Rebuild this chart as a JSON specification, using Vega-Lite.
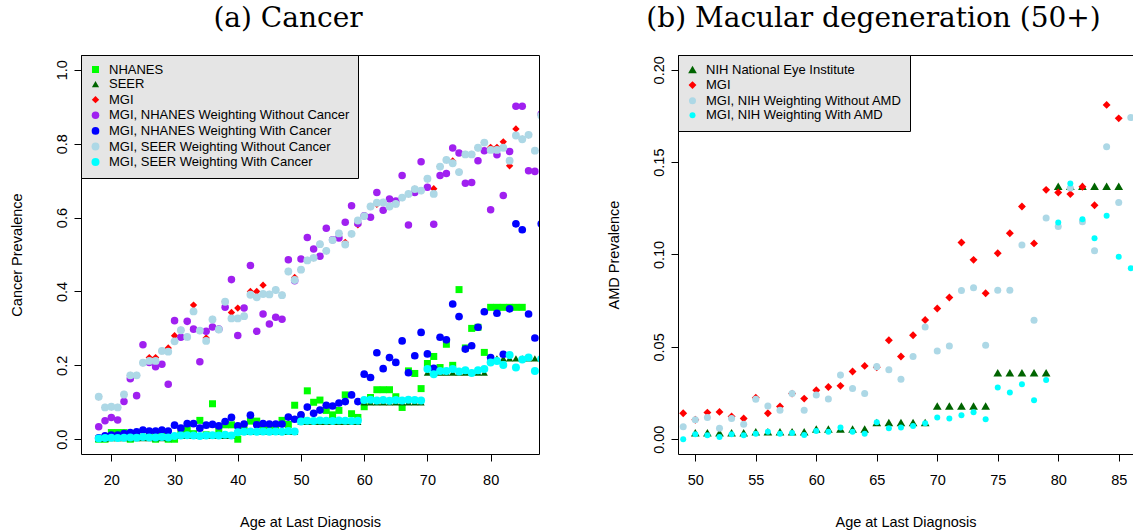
{
"$schema": "https://vega.github.io/schema/vega-lite/v6.json",
"background": "white",
"padding": {"left": 8, "top": 4, "right": 0, "bottom": 0},
"spacing": 66,
"config": {
  "font": "Liberation Sans",
  "view": {"stroke": "black", "strokeWidth": 1},
  "axis": {"grid": false, "domain": false, "tickColor": "black", "tickSize": 7, "labelFont": "Liberation Sans", "labelFontSize": 14.5, "labelColor": "black", "labelOverlap": false, "titleFont": "Liberation Sans", "titleFontSize": 14.5, "titleFontWeight": "normal", "titleColor": "black"},
  "legend": {"orient": "top-left", "offset": 0, "padding": 8, "rowPadding": 0.6, "labelFont": "Liberation Sans", "labelFontSize": 13, "labelColor": "black", "labelLimit": 400, "symbolSize": 30, "labelOffset": 7, "fillColor": "#e5e5e5", "strokeColor": "black", "strokeWidth": 1, "cornerRadius": 0, "symbolOpacity": 1},
  "title": {"font": "DejaVu Serif", "fontSize": 28, "fontWeight": "normal", "color": "black", "offset": 22, "frame": "group"}
},
"resolve": {"scale": {"color": "independent", "shape": "independent", "size": "independent"}, "legend": {"color": "independent", "shape": "independent"}},
"hconcat": [
{
  "width": 458, "height": 399,
  "title": {"text": "(a) Cancer", "dx": -22},
  "data": {"values": [
{"s":"N","a":18,"v":0},{"s":"N","a":19,"v":0},{"s":"N","a":20,"v":0.018},{"s":"N","a":21,"v":0.018},{"s":"N","a":22,"v":0.018},{"s":"N","a":23,"v":0},{"s":"N","a":24,"v":0.012},{"s":"N","a":25,"v":0.005},{"s":"N","a":26,"v":0.01},{"s":"N","a":27,"v":0},{"s":"N","a":28,"v":0.01},{"s":"N","a":29,"v":0},{"s":"N","a":30,"v":0},{"s":"N","a":31,"v":0.015},{"s":"N","a":32,"v":0.027},{"s":"N","a":33,"v":0.015},{"s":"N","a":34,"v":0.051},{"s":"N","a":35,"v":0.012},{"s":"N","a":36,"v":0.096},{"s":"N","a":37,"v":0.024},{"s":"N","a":38,"v":0.039},{"s":"N","a":39,"v":0.039},{"s":"N","a":40,"v":0},{"s":"N","a":41,"v":0.025},{"s":"N","a":42,"v":0.049},{"s":"N","a":43,"v":0.049},{"s":"N","a":44,"v":0.03},{"s":"N","a":45,"v":0.035},{"s":"N","a":46,"v":0.03},{"s":"N","a":47,"v":0.051},{"s":"N","a":48,"v":0.04},{"s":"N","a":49,"v":0.092},{"s":"N","a":50,"v":0.06},{"s":"N","a":51,"v":0.131},{"s":"N","a":52,"v":0.1},{"s":"N","a":53,"v":0.106},{"s":"N","a":54,"v":0.078},{"s":"N","a":55,"v":0.066},{"s":"N","a":56,"v":0.078},{"s":"N","a":57,"v":0.12},{"s":"N","a":58,"v":0.069},{"s":"N","a":59,"v":0.059},{"s":"N","a":60,"v":0.088},{"s":"N","a":61,"v":0.113},{"s":"N","a":62,"v":0.134},{"s":"N","a":63,"v":0.134},{"s":"N","a":64,"v":0.134},{"s":"N","a":65,"v":0.115},{"s":"N","a":66,"v":0.086},{"s":"N","a":67,"v":0.185},{"s":"N","a":68,"v":0.178},{"s":"N","a":69,"v":0.137},{"s":"N","a":70,"v":0.205},{"s":"N","a":71,"v":0.224},{"s":"N","a":72,"v":0.194},{"s":"N","a":73,"v":0.257},{"s":"N","a":74,"v":0.2},{"s":"N","a":75,"v":0.405},{"s":"N","a":76,"v":0.247},{"s":"N","a":77,"v":0.3},{"s":"N","a":78,"v":0.303},{"s":"N","a":79,"v":0.235},{"s":"N","a":80,"v":0.357},{"s":"N","a":81,"v":0.357},{"s":"N","a":82,"v":0.357},{"s":"N","a":83,"v":0.357},{"s":"N","a":84,"v":0.357},{"s":"N","a":85,"v":0.357},
{"s":"S","a":18,"v":0.001},{"s":"S","a":19,"v":0.001},{"s":"S","a":20,"v":0.003},{"s":"S","a":21,"v":0.003},{"s":"S","a":22,"v":0.003},{"s":"S","a":23,"v":0.003},{"s":"S","a":24,"v":0.003},{"s":"S","a":25,"v":0.003},{"s":"S","a":26,"v":0.003},{"s":"S","a":27,"v":0.003},{"s":"S","a":28,"v":0.003},{"s":"S","a":29,"v":0.003},{"s":"S","a":30,"v":0.009},{"s":"S","a":31,"v":0.009},{"s":"S","a":32,"v":0.009},{"s":"S","a":33,"v":0.009},{"s":"S","a":34,"v":0.009},{"s":"S","a":35,"v":0.009},{"s":"S","a":36,"v":0.009},{"s":"S","a":37,"v":0.009},{"s":"S","a":38,"v":0.009},{"s":"S","a":39,"v":0.009},{"s":"S","a":40,"v":0.02},{"s":"S","a":41,"v":0.02},{"s":"S","a":42,"v":0.02},{"s":"S","a":43,"v":0.02},{"s":"S","a":44,"v":0.02},{"s":"S","a":45,"v":0.02},{"s":"S","a":46,"v":0.02},{"s":"S","a":47,"v":0.02},{"s":"S","a":48,"v":0.02},{"s":"S","a":49,"v":0.02},{"s":"S","a":50,"v":0.047},{"s":"S","a":51,"v":0.047},{"s":"S","a":52,"v":0.047},{"s":"S","a":53,"v":0.047},{"s":"S","a":54,"v":0.047},{"s":"S","a":55,"v":0.047},{"s":"S","a":56,"v":0.047},{"s":"S","a":57,"v":0.047},{"s":"S","a":58,"v":0.047},{"s":"S","a":59,"v":0.047},{"s":"S","a":60,"v":0.1},{"s":"S","a":61,"v":0.1},{"s":"S","a":62,"v":0.1},{"s":"S","a":63,"v":0.1},{"s":"S","a":64,"v":0.1},{"s":"S","a":65,"v":0.1},{"s":"S","a":66,"v":0.1},{"s":"S","a":67,"v":0.1},{"s":"S","a":68,"v":0.1},{"s":"S","a":69,"v":0.1},{"s":"S","a":70,"v":0.18},{"s":"S","a":71,"v":0.18},{"s":"S","a":72,"v":0.18},{"s":"S","a":73,"v":0.18},{"s":"S","a":74,"v":0.18},{"s":"S","a":75,"v":0.18},{"s":"S","a":76,"v":0.18},{"s":"S","a":77,"v":0.18},{"s":"S","a":78,"v":0.18},{"s":"S","a":79,"v":0.18},{"s":"S","a":80,"v":0.219},{"s":"S","a":81,"v":0.219},{"s":"S","a":82,"v":0.219},{"s":"S","a":83,"v":0.219},{"s":"S","a":84,"v":0.219},{"s":"S","a":85,"v":0.219},{"s":"S","a":86,"v":0.219},{"s":"S","a":87,"v":0.219},{"s":"S","a":88,"v":0.219},
{"s":"M","a":18,"v":0.115},{"s":"M","a":19,"v":0.086},{"s":"M","a":20,"v":0.088},{"s":"M","a":21,"v":0.086},{"s":"M","a":22,"v":0.121},{"s":"M","a":23,"v":0.173},{"s":"M","a":24,"v":0.173},{"s":"M","a":25,"v":0.207},{"s":"M","a":26,"v":0.221},{"s":"M","a":27,"v":0.221},{"s":"M","a":28,"v":0.239},{"s":"M","a":29,"v":0.247},{"s":"M","a":30,"v":0.28},{"s":"M","a":31,"v":0.295},{"s":"M","a":32,"v":0.277},{"s":"M","a":33,"v":0.363},{"s":"M","a":34,"v":0.294},{"s":"M","a":35,"v":0.274},{"s":"M","a":36,"v":0.324},{"s":"M","a":37,"v":0.297},{"s":"M","a":38,"v":0.372},{"s":"M","a":39,"v":0.343},{"s":"M","a":40,"v":0.355},{"s":"M","a":41,"v":0.333},{"s":"M","a":42,"v":0.4},{"s":"M","a":43,"v":0.4},{"s":"M","a":44,"v":0.417},{"s":"M","a":45,"v":0.392},{"s":"M","a":46,"v":0.404},{"s":"M","a":47,"v":0.39},{"s":"M","a":48,"v":0.454},{"s":"M","a":49,"v":0.438},{"s":"M","a":50,"v":0.459},{"s":"M","a":51,"v":0.484},{"s":"M","a":52,"v":0.491},{"s":"M","a":53,"v":0.528},{"s":"M","a":54,"v":0.51},{"s":"M","a":55,"v":0.539},{"s":"M","a":56,"v":0.557},{"s":"M","a":57,"v":0.533},{"s":"M","a":58,"v":0.556},{"s":"M","a":59,"v":0.58},{"s":"M","a":60,"v":0.604},{"s":"M","a":61,"v":0.63},{"s":"M","a":62,"v":0.636},{"s":"M","a":63,"v":0.641},{"s":"M","a":64,"v":0.63},{"s":"M","a":65,"v":0.637},{"s":"M","a":66,"v":0.654},{"s":"M","a":67,"v":0.664},{"s":"M","a":68,"v":0.677},{"s":"M","a":69,"v":0.673},{"s":"M","a":70,"v":0.705},{"s":"M","a":71,"v":0.678},{"s":"M","a":72,"v":0.738},{"s":"M","a":73,"v":0.756},{"s":"M","a":74,"v":0.753},{"s":"M","a":75,"v":0.723},{"s":"M","a":76,"v":0.771},{"s":"M","a":77,"v":0.771},{"s":"M","a":78,"v":0.789},{"s":"M","a":79,"v":0.803},{"s":"M","a":80,"v":0.79},{"s":"M","a":81,"v":0.79},{"s":"M","a":82,"v":0.805},{"s":"M","a":83,"v":0.74},{"s":"M","a":84,"v":0.84},{"s":"M","a":85,"v":0.812},{"s":"M","a":86,"v":0.824},{"s":"M","a":87,"v":0.781},{"s":"M","a":88,"v":0.876},
{"s":"P","a":18,"v":0.034},{"s":"P","a":19,"v":0.05},{"s":"P","a":20,"v":0.059},{"s":"P","a":21,"v":0.052},{"s":"P","a":22,"v":0.102},{"s":"P","a":23,"v":0.164},{"s":"P","a":24,"v":0.118},{"s":"P","a":25,"v":0.256},{"s":"P","a":26,"v":0.208},{"s":"P","a":27,"v":0.196},{"s":"P","a":28,"v":0.203},{"s":"P","a":29,"v":0.149},{"s":"P","a":30,"v":0.321},{"s":"P","a":31,"v":0.276},{"s":"P","a":32,"v":0.319},{"s":"P","a":33,"v":0.298},{"s":"P","a":34,"v":0.21},{"s":"P","a":35,"v":0.292},{"s":"P","a":36,"v":0.304},{"s":"P","a":37,"v":0.298},{"s":"P","a":38,"v":0.357},{"s":"P","a":39,"v":0.432},{"s":"P","a":40,"v":0.281},{"s":"P","a":41,"v":0.355},{"s":"P","a":42,"v":0.47},{"s":"P","a":43,"v":0.292},{"s":"P","a":44,"v":0.339},{"s":"P","a":45,"v":0.312},{"s":"P","a":46,"v":0.33},{"s":"P","a":47,"v":0.325},{"s":"P","a":48,"v":0.486},{"s":"P","a":49,"v":0.429},{"s":"P","a":50,"v":0.488},{"s":"P","a":51,"v":0.546},{"s":"P","a":52,"v":0.515},{"s":"P","a":53,"v":0.495},{"s":"P","a":54,"v":0.571},{"s":"P","a":55,"v":0.54},{"s":"P","a":56,"v":0.545},{"s":"P","a":57,"v":0.587},{"s":"P","a":58,"v":0.632},{"s":"P","a":59,"v":0.584},{"s":"P","a":60,"v":0.605},{"s":"P","a":61,"v":0.601},{"s":"P","a":62,"v":0.668},{"s":"P","a":63,"v":0.62},{"s":"P","a":64,"v":0.65},{"s":"P","a":65,"v":0.645},{"s":"P","a":66,"v":0.714},{"s":"P","a":67,"v":0.58},{"s":"P","a":68,"v":0.668},{"s":"P","a":69,"v":0.751},{"s":"P","a":70,"v":0.682},{"s":"P","a":71,"v":0.582},{"s":"P","a":72,"v":0.714},{"s":"P","a":73,"v":0.719},{"s":"P","a":74,"v":0.788},{"s":"P","a":75,"v":0.775},{"s":"P","a":76,"v":0.693},{"s":"P","a":77,"v":0.695},{"s":"P","a":78,"v":0.754},{"s":"P","a":79,"v":0.781},{"s":"P","a":80,"v":0.621},{"s":"P","a":81,"v":0.77},{"s":"P","a":82,"v":0.66},{"s":"P","a":83,"v":0.779},{"s":"P","a":84,"v":0.901},{"s":"P","a":85,"v":0.901},{"s":"P","a":86,"v":0.727},{"s":"P","a":87,"v":0.725},{"s":"P","a":88,"v":0.88},
{"s":"B","a":18,"v":0.004},{"s":"B","a":19,"v":0.009},{"s":"B","a":20,"v":0.011},{"s":"B","a":21,"v":0.011},{"s":"B","a":22,"v":0.015},{"s":"B","a":23,"v":0.018},{"s":"B","a":24,"v":0.02},{"s":"B","a":25,"v":0.025},{"s":"B","a":26,"v":0.022},{"s":"B","a":27,"v":0.022},{"s":"B","a":28,"v":0.025},{"s":"B","a":29,"v":0.022},{"s":"B","a":30,"v":0.038},{"s":"B","a":31,"v":0.03},{"s":"B","a":32,"v":0.042},{"s":"B","a":33,"v":0.042},{"s":"B","a":34,"v":0.03},{"s":"B","a":35,"v":0.038},{"s":"B","a":36,"v":0.04},{"s":"B","a":37,"v":0.036},{"s":"B","a":38,"v":0.048},{"s":"B","a":39,"v":0.059},{"s":"B","a":40,"v":0.036},{"s":"B","a":41,"v":0.041},{"s":"B","a":42,"v":0.065},{"s":"B","a":43,"v":0.039},{"s":"B","a":44,"v":0.042},{"s":"B","a":45,"v":0.041},{"s":"B","a":46,"v":0.041},{"s":"B","a":47,"v":0.041},{"s":"B","a":48,"v":0.06},{"s":"B","a":49,"v":0.054},{"s":"B","a":50,"v":0.066},{"s":"B","a":51,"v":0.087},{"s":"B","a":52,"v":0.07},{"s":"B","a":53,"v":0.079},{"s":"B","a":54,"v":0.092},{"s":"B","a":55,"v":0.09},{"s":"B","a":56,"v":0.098},{"s":"B","a":57,"v":0.102},{"s":"B","a":58,"v":0.12},{"s":"B","a":59,"v":0.102},{"s":"B","a":60,"v":0.176},{"s":"B","a":61,"v":0.167},{"s":"B","a":62,"v":0.234},{"s":"B","a":63,"v":0.191},{"s":"B","a":64,"v":0.221},{"s":"B","a":65,"v":0.208},{"s":"B","a":66,"v":0.266},{"s":"B","a":67,"v":0.18},{"s":"B","a":68,"v":0.226},{"s":"B","a":69,"v":0.289},{"s":"B","a":70,"v":0.231},{"s":"B","a":71,"v":0.192},{"s":"B","a":72,"v":0.276},{"s":"B","a":73,"v":0.269},{"s":"B","a":74,"v":0.366},{"s":"B","a":75,"v":0.332},{"s":"B","a":76,"v":0.244},{"s":"B","a":77,"v":0.253},{"s":"B","a":78,"v":0.303},{"s":"B","a":79,"v":0.345},{"s":"B","a":80,"v":0.221},{"s":"B","a":81,"v":0.341},{"s":"B","a":82,"v":0.23},{"s":"B","a":83,"v":0.353},{"s":"B","a":84,"v":0.583},{"s":"B","a":85,"v":0.567},{"s":"B","a":86,"v":0.339},{"s":"B","a":87,"v":0.274},{"s":"B","a":88,"v":0.583},
{"s":"L","a":18,"v":0.115},{"s":"L","a":19,"v":0.086},{"s":"L","a":20,"v":0.088},{"s":"L","a":21,"v":0.086},{"s":"L","a":22,"v":0.121},{"s":"L","a":23,"v":0.173},{"s":"L","a":24,"v":0.173},{"s":"L","a":25,"v":0.207},{"s":"L","a":26,"v":0.212},{"s":"L","a":27,"v":0.212},{"s":"L","a":28,"v":0.239},{"s":"L","a":29,"v":0.237},{"s":"L","a":30,"v":0.265},{"s":"L","a":31,"v":0.295},{"s":"L","a":32,"v":0.277},{"s":"L","a":33,"v":0.346},{"s":"L","a":34,"v":0.294},{"s":"L","a":35,"v":0.266},{"s":"L","a":36,"v":0.324},{"s":"L","a":37,"v":0.297},{"s":"L","a":38,"v":0.372},{"s":"L","a":39,"v":0.327},{"s":"L","a":40,"v":0.327},{"s":"L","a":41,"v":0.333},{"s":"L","a":42,"v":0.391},{"s":"L","a":43,"v":0.384},{"s":"L","a":44,"v":0.393},{"s":"L","a":45,"v":0.392},{"s":"L","a":46,"v":0.404},{"s":"L","a":47,"v":0.39},{"s":"L","a":48,"v":0.454},{"s":"L","a":49,"v":0.431},{"s":"L","a":50,"v":0.459},{"s":"L","a":51,"v":0.484},{"s":"L","a":52,"v":0.491},{"s":"L","a":53,"v":0.528},{"s":"L","a":54,"v":0.51},{"s":"L","a":55,"v":0.539},{"s":"L","a":56,"v":0.557},{"s":"L","a":57,"v":0.527},{"s":"L","a":58,"v":0.556},{"s":"L","a":59,"v":0.592},{"s":"L","a":60,"v":0.604},{"s":"L","a":61,"v":0.63},{"s":"L","a":62,"v":0.64},{"s":"L","a":63,"v":0.641},{"s":"L","a":64,"v":0.63},{"s":"L","a":65,"v":0.637},{"s":"L","a":66,"v":0.654},{"s":"L","a":67,"v":0.664},{"s":"L","a":68,"v":0.677},{"s":"L","a":69,"v":0.673},{"s":"L","a":70,"v":0.705},{"s":"L","a":71,"v":0.664},{"s":"L","a":72,"v":0.738},{"s":"L","a":73,"v":0.756},{"s":"L","a":74,"v":0.747},{"s":"L","a":75,"v":0.723},{"s":"L","a":76,"v":0.771},{"s":"L","a":77,"v":0.771},{"s":"L","a":78,"v":0.789},{"s":"L","a":79,"v":0.803},{"s":"L","a":80,"v":0.783},{"s":"L","a":81,"v":0.783},{"s":"L","a":82,"v":0.789},{"s":"L","a":83,"v":0.754},{"s":"L","a":84,"v":0.822},{"s":"L","a":85,"v":0.812},{"s":"L","a":86,"v":0.824},{"s":"L","a":87,"v":0.781},{"s":"L","a":88,"v":0.876},
{"s":"C","a":18,"v":0.002},{"s":"C","a":19,"v":0.003},{"s":"C","a":20,"v":0.004},{"s":"C","a":21,"v":0.003},{"s":"C","a":22,"v":0.004},{"s":"C","a":23,"v":0.005},{"s":"C","a":24,"v":0.004},{"s":"C","a":25,"v":0.006},{"s":"C","a":26,"v":0.005},{"s":"C","a":27,"v":0.005},{"s":"C","a":28,"v":0.006},{"s":"C","a":29,"v":0.005},{"s":"C","a":30,"v":0.009},{"s":"C","a":31,"v":0.01},{"s":"C","a":32,"v":0.011},{"s":"C","a":33,"v":0.01},{"s":"C","a":34,"v":0.009},{"s":"C","a":35,"v":0.01},{"s":"C","a":36,"v":0.011},{"s":"C","a":37,"v":0.01},{"s":"C","a":38,"v":0.012},{"s":"C","a":39,"v":0.01},{"s":"C","a":40,"v":0.019},{"s":"C","a":41,"v":0.02},{"s":"C","a":42,"v":0.021},{"s":"C","a":43,"v":0.02},{"s":"C","a":44,"v":0.021},{"s":"C","a":45,"v":0.02},{"s":"C","a":46,"v":0.021},{"s":"C","a":47,"v":0.02},{"s":"C","a":48,"v":0.022},{"s":"C","a":49,"v":0.021},{"s":"C","a":50,"v":0.048},{"s":"C","a":51,"v":0.05},{"s":"C","a":52,"v":0.049},{"s":"C","a":53,"v":0.051},{"s":"C","a":54,"v":0.05},{"s":"C","a":55,"v":0.049},{"s":"C","a":56,"v":0.051},{"s":"C","a":57,"v":0.05},{"s":"C","a":58,"v":0.049},{"s":"C","a":59,"v":0.05},{"s":"C","a":60,"v":0.106},{"s":"C","a":61,"v":0.107},{"s":"C","a":62,"v":0.105},{"s":"C","a":63,"v":0.106},{"s":"C","a":64,"v":0.104},{"s":"C","a":65,"v":0.106},{"s":"C","a":66,"v":0.105},{"s":"C","a":67,"v":0.107},{"s":"C","a":68,"v":0.106},{"s":"C","a":69,"v":0.105},{"s":"C","a":70,"v":0.19},{"s":"C","a":71,"v":0.176},{"s":"C","a":72,"v":0.185},{"s":"C","a":73,"v":0.185},{"s":"C","a":74,"v":0.19},{"s":"C","a":75,"v":0.183},{"s":"C","a":76,"v":0.187},{"s":"C","a":77,"v":0.179},{"s":"C","a":78,"v":0.187},{"s":"C","a":79,"v":0.19},{"s":"C","a":80,"v":0.208},{"s":"C","a":81,"v":0.212},{"s":"C","a":82,"v":0.201},{"s":"C","a":83,"v":0.228},{"s":"C","a":84,"v":0.194},{"s":"C","a":85,"v":0.216},{"s":"C","a":86,"v":0.221},{"s":"C","a":87,"v":0.185},{"s":"C","a":88,"v":0.217}
  ]},
  "mark": {"type": "point", "filled": true, "opacity": 1, "clip": true},
  "encoding": {
    "x": {"field": "a", "type": "quantitative", "scale": {"domain": [15.2, 87.65], "nice": false, "zero": false}, "axis": {"values": [20, 30, 40, 50, 60, 70, 80], "title": "Age at Last Diagnosis", "labelAngle": 0, "labelAlign": "center", "labelBaseline": "top", "labelPadding": 12, "titlePadding": 29}},
    "y": {"field": "v", "type": "quantitative", "scale": {"domain": [-0.04, 1.04], "nice": false, "zero": false}, "axis": {"values": [0, 0.2, 0.4, 0.6, 0.8, 1.0], "format": ".1f", "title": "Cancer Prevalence", "labelAngle": 270, "labelAlign": "center", "labelBaseline": "bottom", "labelPadding": 5, "titlePadding": 30}},
    "color": {"field": "s", "type": "nominal", "scale": {"domain": ["N", "S", "M", "P", "B", "L", "C"], "range": ["#00ff00", "#006400", "#ff0000", "#a020f0", "#0000ff", "#add8e6", "#00ffff"]}, "legend": {"title": null, "labelExpr": "datum.label == 'N' ? 'NHANES' : datum.label == 'S' ? 'SEER' : datum.label == 'M' ? 'MGI' : datum.label == 'P' ? 'MGI, NHANES Weighting Without Cancer' : datum.label == 'B' ? 'MGI, NHANES Weighting With Cancer' : datum.label == 'L' ? 'MGI, SEER Weighting Without Cancer' : 'MGI, SEER Weighting With Cancer'"}},
    "shape": {"field": "s", "type": "nominal", "scale": {"domain": ["N", "S", "M", "P", "B", "L", "C"], "range": ["square", "triangle-up", "diamond", "circle", "circle", "circle", "circle"]}, "legend": {"title": null, "labelExpr": "datum.label == 'N' ? 'NHANES' : datum.label == 'S' ? 'SEER' : datum.label == 'M' ? 'MGI' : datum.label == 'P' ? 'MGI, NHANES Weighting Without Cancer' : datum.label == 'B' ? 'MGI, NHANES Weighting With Cancer' : datum.label == 'L' ? 'MGI, SEER Weighting Without Cancer' : 'MGI, SEER Weighting With Cancer'"}},
    "size": {"field": "s", "type": "nominal", "scale": {"domain": ["N", "S", "M", "P", "B", "L", "C"], "range": [49, 64, 36, 90, 90, 90, 90]}, "legend": null}
  }
},
{
  "width": 455, "height": 399,
  "view": {"stroke": null},
  "title": {"text": "(b) Macular degeneration (50+)", "dx": -32},
  "data": {"values": [
{"s":"H","a":50,"v":0.0035},{"s":"H","a":51,"v":0.0035},{"s":"H","a":52,"v":0.0035},{"s":"H","a":53,"v":0.0035},{"s":"H","a":54,"v":0.0035},{"s":"H","a":55,"v":0.004},{"s":"H","a":56,"v":0.004},{"s":"H","a":57,"v":0.004},{"s":"H","a":58,"v":0.004},{"s":"H","a":59,"v":0.004},{"s":"H","a":60,"v":0.0055},{"s":"H","a":61,"v":0.0055},{"s":"H","a":62,"v":0.0055},{"s":"H","a":63,"v":0.0055},{"s":"H","a":64,"v":0.0055},{"s":"H","a":65,"v":0.009},{"s":"H","a":66,"v":0.009},{"s":"H","a":67,"v":0.009},{"s":"H","a":68,"v":0.009},{"s":"H","a":69,"v":0.009},{"s":"H","a":70,"v":0.018},{"s":"H","a":71,"v":0.018},{"s":"H","a":72,"v":0.018},{"s":"H","a":73,"v":0.018},{"s":"H","a":74,"v":0.018},{"s":"H","a":75,"v":0.036},{"s":"H","a":76,"v":0.036},{"s":"H","a":77,"v":0.036},{"s":"H","a":78,"v":0.036},{"s":"H","a":79,"v":0.036},{"s":"H","a":80,"v":0.137},{"s":"H","a":81,"v":0.137},{"s":"H","a":82,"v":0.137},{"s":"H","a":83,"v":0.137},{"s":"H","a":84,"v":0.137},{"s":"H","a":85,"v":0.137},
{"s":"M","a":49,"v":0.0141},{"s":"M","a":50,"v":0.0105},{"s":"M","a":51,"v":0.0144},{"s":"M","a":52,"v":0.0148},{"s":"M","a":53,"v":0.0123},{"s":"M","a":54,"v":0.0112},{"s":"M","a":55,"v":0.0225},{"s":"M","a":56,"v":0.0141},{"s":"M","a":57,"v":0.0177},{"s":"M","a":58,"v":0.0247},{"s":"M","a":59,"v":0.022},{"s":"M","a":60,"v":0.0265},{"s":"M","a":61,"v":0.0283},{"s":"M","a":62,"v":0.0289},{"s":"M","a":63,"v":0.0367},{"s":"M","a":64,"v":0.0397},{"s":"M","a":65,"v":0.039},{"s":"M","a":66,"v":0.0536},{"s":"M","a":67,"v":0.0448},{"s":"M","a":68,"v":0.0563},{"s":"M","a":69,"v":0.0645},{"s":"M","a":70,"v":0.0708},{"s":"M","a":71,"v":0.0767},{"s":"M","a":72,"v":0.1065},{"s":"M","a":73,"v":0.0971},{"s":"M","a":74,"v":0.079},{"s":"M","a":75,"v":0.1007},{"s":"M","a":76,"v":0.1115},{"s":"M","a":77,"v":0.126},{"s":"M","a":78,"v":0.106},{"s":"M","a":79,"v":0.135},{"s":"M","a":80,"v":0.1336},{"s":"M","a":81,"v":0.1327},{"s":"M","a":82,"v":0.1367},{"s":"M","a":83,"v":0.1267},{"s":"M","a":84,"v":0.181},{"s":"M","a":85,"v":0.1737},
{"s":"L","a":49,"v":0.0068},{"s":"L","a":50,"v":0.0105},{"s":"L","a":51,"v":0.0117},{"s":"L","a":52,"v":0.006},{"s":"L","a":53,"v":0.0112},{"s":"L","a":54,"v":0.0081},{"s":"L","a":55,"v":0.0216},{"s":"L","a":56,"v":0.018},{"s":"L","a":57,"v":0.0157},{"s":"L","a":58,"v":0.0247},{"s":"L","a":59,"v":0.0157},{"s":"L","a":60,"v":0.024},{"s":"L","a":61,"v":0.0218},{"s":"L","a":62,"v":0.0347},{"s":"L","a":63,"v":0.0274},{"s":"L","a":64,"v":0.0247},{"s":"L","a":65,"v":0.0393},{"s":"L","a":66,"v":0.0376},{"s":"L","a":67,"v":0.0325},{"s":"L","a":68,"v":0.0448},{"s":"L","a":69,"v":0.0608},{"s":"L","a":70,"v":0.0478},{"s":"L","a":71,"v":0.0505},{"s":"L","a":72,"v":0.0805},{"s":"L","a":73,"v":0.082},{"s":"L","a":74,"v":0.0509},{"s":"L","a":75,"v":0.0807},{"s":"L","a":76,"v":0.0807},{"s":"L","a":77,"v":0.1052},{"s":"L","a":78,"v":0.0644},{"s":"L","a":79,"v":0.1197},{"s":"L","a":80,"v":0.1151},{"s":"L","a":81,"v":0.136},{"s":"L","a":82,"v":0.1177},{"s":"L","a":83,"v":0.102},{"s":"L","a":84,"v":0.1583},{"s":"L","a":85,"v":0.1282},{"s":"L","a":86,"v":0.1742},
{"s":"C","a":49,"v":0},{"s":"C","a":50,"v":0.0027},{"s":"C","a":51,"v":0.0021},{"s":"C","a":52,"v":0.0012},{"s":"C","a":53,"v":0.0027},{"s":"C","a":54,"v":0.0021},{"s":"C","a":55,"v":0.003},{"s":"C","a":56,"v":0.0041},{"s":"C","a":57,"v":0.003},{"s":"C","a":58,"v":0.0034},{"s":"C","a":59,"v":0.0023},{"s":"C","a":60,"v":0.0045},{"s":"C","a":61,"v":0.004},{"s":"C","a":62,"v":0.0063},{"s":"C","a":63,"v":0.004},{"s":"C","a":64,"v":0.003},{"s":"C","a":65,"v":0.0092},{"s":"C","a":66,"v":0.006},{"s":"C","a":67,"v":0.0063},{"s":"C","a":68,"v":0.0072},{"s":"C","a":69,"v":0.0086},{"s":"C","a":70,"v":0.0117},{"s":"C","a":71,"v":0.0112},{"s":"C","a":72,"v":0.013},{"s":"C","a":73,"v":0.0146},{"s":"C","a":74,"v":0.0108},{"s":"C","a":75,"v":0.028},{"s":"C","a":76,"v":0.0253},{"s":"C","a":77,"v":0.0298},{"s":"C","a":78,"v":0.0211},{"s":"C","a":79,"v":0.032},{"s":"C","a":80,"v":0.1173},{"s":"C","a":81,"v":0.1385},{"s":"C","a":82,"v":0.1191},{"s":"C","a":83,"v":0.1088},{"s":"C","a":84,"v":0.121},{"s":"C","a":85,"v":0.0988},{"s":"C","a":86,"v":0.0926}
  ]},
  "layer": [
    {
      "mark": {"type": "point", "filled": true, "opacity": 1, "clip": true},
      "encoding": {
        "x": {"field": "a", "type": "quantitative", "scale": {"domain": [48.57, 86.18], "nice": false, "zero": false}, "axis": {"values": [50, 55, 60, 65, 70, 75, 80, 85], "title": "Age at Last Diagnosis", "domain": true, "domainColor": "black", "labelAngle": 0, "labelAlign": "center", "labelBaseline": "top", "labelPadding": 12, "titlePadding": 29}},
        "y": {"field": "v", "type": "quantitative", "scale": {"domain": [-0.008, 0.208], "nice": false, "zero": false}, "axis": {"values": [0, 0.05, 0.1, 0.15, 0.2], "format": ".2f", "title": "AMD Prevalence", "domain": true, "domainColor": "black", "labelAngle": 270, "labelAlign": "center", "labelBaseline": "bottom", "labelPadding": 5, "titlePadding": 30}},
        "color": {"field": "s", "type": "nominal", "scale": {"domain": ["H", "M", "L", "C"], "range": ["#006400", "#ff0000", "#add8e6", "#00ffff"]}, "legend": {"title": null, "labelExpr": "datum.label == 'H' ? 'NIH National Eye Institute' : datum.label == 'M' ? 'MGI' : datum.label == 'L' ? 'MGI, NIH Weighting Without AMD' : 'MGI, NIH Weighting With AMD'"}},
        "shape": {"field": "s", "type": "nominal", "scale": {"domain": ["H", "M", "L", "C"], "range": ["triangle-up", "diamond", "circle", "circle"]}, "legend": {"title": null, "labelExpr": "datum.label == 'H' ? 'NIH National Eye Institute' : datum.label == 'M' ? 'MGI' : datum.label == 'L' ? 'MGI, NIH Weighting Without AMD' : 'MGI, NIH Weighting With AMD'"}},
        "size": {"field": "s", "type": "nominal", "scale": {"domain": ["H", "M", "L", "C"], "range": [76, 36, 90, 90]}, "legend": null}
      }
    },
    {
      "mark": {"type": "point", "opacity": 0, "clip": true},
      "encoding": {
        "x": {"field": "a", "type": "quantitative", "axis": {"orient": "top", "labels": false, "ticks": false, "title": null, "domain": true, "domainColor": "black"}},
        "y": {"field": "v", "type": "quantitative"}
      }
    }
  ],
  "resolve": {"axis": {"x": "independent"}}
}
]
}
